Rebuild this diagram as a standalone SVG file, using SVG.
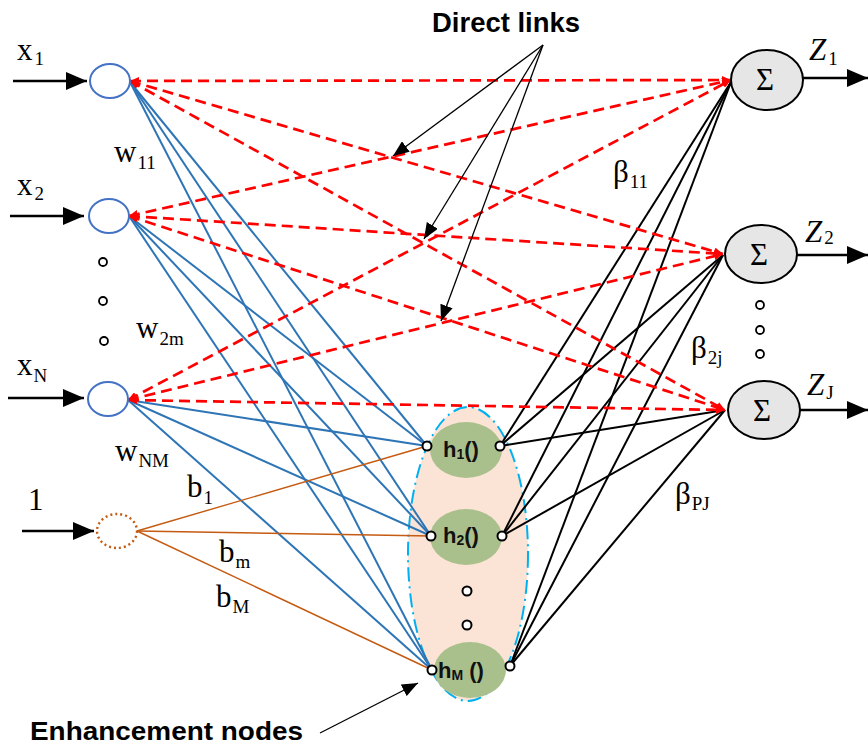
<svg xmlns="http://www.w3.org/2000/svg" width="868" height="750" viewBox="0 0 868 750">
  <defs>
    <style>
      .in { fill: #fff; stroke: #4472c4; stroke-width: 2; }
      .bias { fill: #fff; stroke: #c55a11; stroke-width: 2.4; stroke-dasharray: 2 3; }
      .w { stroke: #2e75b6; stroke-width: 2; fill: none; }
      .d { stroke: #ff0000; stroke-width: 2.7; stroke-dasharray: 11 6; fill: none; }
      .b { stroke: #c55a11; stroke-width: 1.4; fill: none; }
      .o { stroke: #000; stroke-width: 2; fill: none; }
      .arr { stroke: #000; stroke-width: 2.5; fill: none; }
      .ann { stroke: #000; stroke-width: 1.3; fill: none; }
      .sum { fill: #e7e6e6; stroke: #000; stroke-width: 2; }
      .hn { fill: #a9c08c; }
      .dot { fill: #fff; stroke: #000; stroke-width: 2; }
      .sdot { fill: #fff; stroke: #000; stroke-width: 1.8; }
      .m { font-family: "Liberation Serif", "DejaVu Serif", serif; fill: #000; font-size: 31px; }
      .sub { font-size: 19px; }
      .h { font-family: "Liberation Sans", Arial, sans-serif; font-weight: bold; font-size: 22px; fill: #111; }
      .lbl { font-family: "Liberation Sans", Arial, sans-serif; font-weight: bold; fill: #000; }
    </style>
    <marker id="head" viewBox="0 0 21 18" refX="21" refY="9" markerWidth="21" markerHeight="18" markerUnits="userSpaceOnUse" orient="auto">
      <path d="M0,0 L21,9 L0,18 z" fill="#000"/>
    </marker>
    <marker id="headSmall" viewBox="0 0 16 13" refX="16" refY="6.5" markerWidth="16" markerHeight="13" markerUnits="userSpaceOnUse" orient="auto">
      <path d="M0,0 L16,6.5 L0,13 z" fill="#000"/>
    </marker>
    <marker id="headRed" viewBox="0 0 9 8" refX="9" refY="4" markerWidth="9" markerHeight="8" markerUnits="userSpaceOnUse" orient="auto-start-reverse">
      <path d="M0,0 L9,4 L0,8 z" fill="#ff0000"/>
    </marker>
  </defs>

  <rect width="868" height="750" fill="#fff"/>

  <!-- enhancement layer envelope -->
  <g id="enhancement-group">
    <ellipse cx="468" cy="554" rx="60" ry="147" fill="#fbe4d5" stroke="#00b0f0" stroke-width="2" stroke-dasharray="14 5 2 5"/>
  </g>

  <g id="connectors">
    <!-- input arrows -->
    <line class="arr" x1="13" y1="81" x2="87" y2="81" marker-end="url(#head)"/>
    <line class="arr" x1="10" y1="216" x2="84" y2="216" marker-end="url(#head)"/>
    <line class="arr" x1="8" y1="398" x2="84" y2="398" marker-end="url(#head)"/>
    <line class="arr" x1="22" y1="531" x2="94" y2="531" marker-end="url(#head)"/>

    <!-- output arrows -->
    <line class="arr" x1="803" y1="78" x2="868" y2="78" marker-end="url(#head)"/>
    <line class="arr" x1="797" y1="255" x2="868" y2="255" marker-end="url(#head)"/>
    <line class="arr" x1="800" y1="410" x2="868" y2="410" marker-end="url(#head)"/>

    <!-- input to enhancement weights -->
    <line class="w" x1="130" y1="82" x2="427" y2="446"/>
    <line class="w" x1="130" y1="82" x2="431" y2="536"/>
    <line class="w" x1="130" y1="82" x2="432" y2="670"/>
    <line class="w" x1="129" y1="216" x2="427" y2="446"/>
    <line class="w" x1="129" y1="216" x2="431" y2="536"/>
    <line class="w" x1="129" y1="216" x2="432" y2="670"/>
    <line class="w" x1="128" y1="400" x2="427" y2="446"/>
    <line class="w" x1="128" y1="400" x2="431" y2="536"/>
    <line class="w" x1="128" y1="400" x2="432" y2="670"/>

    <!-- bias links -->
    <line class="b" x1="137" y1="531" x2="427" y2="446"/>
    <line class="b" x1="137" y1="531" x2="431" y2="536"/>
    <line class="b" x1="137" y1="531" x2="432" y2="670"/>

    <!-- enhancement to output weights -->
    <line class="o" x1="500" y1="446" x2="731" y2="82"/>
    <line class="o" x1="500" y1="446" x2="723" y2="255"/>
    <line class="o" x1="500" y1="446" x2="725" y2="410"/>
    <line class="o" x1="502" y1="536" x2="731" y2="82"/>
    <line class="o" x1="502" y1="536" x2="723" y2="255"/>
    <line class="o" x1="502" y1="536" x2="725" y2="410"/>
    <line class="o" x1="510" y1="666" x2="731" y2="82"/>
    <line class="o" x1="510" y1="666" x2="723" y2="255"/>
    <line class="o" x1="510" y1="666" x2="725" y2="410"/>

    <!-- direct links input to output -->
    <line class="d" x1="130" y1="81" x2="731" y2="80" marker-start="url(#headRed)" marker-end="url(#headRed)"/>
    <line class="d" x1="130" y1="81" x2="723" y2="254" marker-start="url(#headRed)" marker-end="url(#headRed)"/>
    <line class="d" x1="130" y1="81" x2="725" y2="410" marker-start="url(#headRed)" marker-end="url(#headRed)"/>
    <line class="d" x1="129" y1="216" x2="731" y2="80" marker-start="url(#headRed)" marker-end="url(#headRed)"/>
    <line class="d" x1="129" y1="216" x2="723" y2="254" marker-start="url(#headRed)" marker-end="url(#headRed)"/>
    <line class="d" x1="129" y1="216" x2="725" y2="410" marker-start="url(#headRed)" marker-end="url(#headRed)"/>
    <line class="d" x1="128" y1="400" x2="731" y2="80" marker-start="url(#headRed)" marker-end="url(#headRed)"/>
    <line class="d" x1="128" y1="400" x2="723" y2="254" marker-start="url(#headRed)" marker-end="url(#headRed)"/>
    <line class="d" x1="128" y1="400" x2="725" y2="410" marker-start="url(#headRed)" marker-end="url(#headRed)"/>

    <!-- annotation pointers -->
    <line class="ann" x1="543" y1="45" x2="393" y2="156" marker-end="url(#headSmall)"/>
    <line class="ann" x1="543" y1="45" x2="424" y2="239" marker-end="url(#headSmall)"/>
    <line class="ann" x1="543" y1="45" x2="441" y2="321" marker-end="url(#headSmall)"/>
    <line class="ann" x1="320" y1="733" x2="418" y2="683" marker-end="url(#headSmall)"/>
  </g>

  <!-- input nodes -->
  <g id="input-x1">
    <ellipse class="in" cx="110" cy="81" rx="20" ry="17"/>
    <text class="m" x="17" y="60">x<tspan class="sub" dx="2" dy="5">1</tspan></text>
  </g>
  <g id="input-x2">
    <ellipse class="in" cx="109" cy="216" rx="20" ry="17"/>
    <text class="m" x="17" y="195">x<tspan class="sub" dx="2" dy="5">2</tspan></text>
  </g>
  <g id="input-dots">
    <circle class="sdot" cx="103" cy="262" r="4"/>
    <circle class="sdot" cx="103" cy="301" r="4"/>
    <circle class="sdot" cx="104" cy="341" r="4"/>
  </g>
  <g id="input-xN">
    <ellipse class="in" cx="108" cy="399" rx="20" ry="17"/>
    <text class="m" x="17" y="375">x<tspan class="sub" dx="1" dy="7">N</tspan></text>
  </g>
  <g id="bias-node">
    <ellipse class="bias" cx="117" cy="531" rx="20" ry="17"/>
    <text class="m" x="28" y="510" font-size="32">1</text>
  </g>

  <!-- weight labels -->
  <g id="weight-labels">
    <text class="m" x="114" y="162">w<tspan class="sub" dx="1" dy="7">11</tspan></text>
    <text class="m" x="136" y="338">w<tspan class="sub" dx="1" dy="7">2m</tspan></text>
    <text class="m" x="115" y="461">w<tspan class="sub" dx="1" dy="6">NM</tspan></text>
    <text class="m" x="187" y="497">b<tspan class="sub" dx="1" dy="7">1</tspan></text>
    <text class="m" x="219" y="562">b<tspan class="sub" dx="1" dy="6">m</tspan></text>
    <text class="m" x="216" y="607">b<tspan class="sub" dx="1" dy="6">M</tspan></text>
    <text class="m" x="613" y="182">β<tspan class="sub" dx="1" dy="6">11</tspan></text>
    <text class="m" x="691" y="358">β<tspan class="sub" dx="1" dy="6">2j</tspan></text>
    <text class="m" x="675" y="504">β<tspan class="sub" dx="1" dy="6">PJ</tspan></text>
  </g>

  <!-- enhancement nodes -->
  <g id="enh-h1">
    <ellipse class="hn" cx="466" cy="450" rx="36" ry="28"/>
    <text class="h" x="443" y="457">h<tspan font-size="14" dy="2">1</tspan><tspan dy="-2">()</tspan></text>
    <circle class="dot" cx="427" cy="446" r="4.5"/>
    <circle class="dot" cx="500" cy="446" r="4.5"/>
  </g>
  <g id="enh-h2">
    <ellipse class="hn" cx="466" cy="537" rx="36" ry="28"/>
    <text class="h" x="443" y="543">h<tspan font-size="14" dy="2">2</tspan><tspan dy="-2">()</tspan></text>
    <circle class="dot" cx="431" cy="536" r="4.5"/>
    <circle class="dot" cx="502" cy="536" r="4.5"/>
  </g>
  <g id="enh-dots">
    <circle class="dot" cx="467" cy="591" r="4.5"/>
    <circle class="dot" cx="467" cy="625" r="4.5"/>
  </g>
  <g id="enh-hM">
    <ellipse class="hn" cx="470" cy="670" rx="36" ry="28"/>
    <text class="h" x="438" y="678">h<tspan font-size="14" dy="2">M</tspan><tspan dy="-2"> ()</tspan></text>
    <circle class="dot" cx="432" cy="670" r="4.5"/>
    <circle class="dot" cx="510" cy="666" r="4.5"/>
  </g>

  <!-- output nodes -->
  <g id="output-z1">
    <ellipse class="sum" cx="767" cy="80" rx="36" ry="30"/>
    <text class="m" x="765" y="90" text-anchor="middle" font-size="32">Σ</text>
    <text class="m" x="809" y="60" font-style="italic">Z<tspan class="sub" font-style="normal" dx="2" dy="5">1</tspan></text>
  </g>
  <g id="output-z2">
    <ellipse class="sum" cx="761" cy="254" rx="36" ry="29"/>
    <text class="m" x="759" y="265" text-anchor="middle" font-size="32">Σ</text>
    <text class="m" x="805" y="242" font-style="italic">Z<tspan class="sub" font-style="normal" dx="2" dy="2">2</tspan></text>
  </g>
  <g id="output-dots">
    <circle class="sdot" cx="760" cy="305" r="4"/>
    <circle class="sdot" cx="760" cy="330" r="4"/>
    <circle class="sdot" cx="760" cy="354" r="4"/>
  </g>
  <g id="output-zJ">
    <ellipse class="sum" cx="764" cy="410" rx="36" ry="29"/>
    <text class="m" x="762" y="421" text-anchor="middle" font-size="32">Σ</text>
    <text class="m" x="807" y="395" font-style="italic">Z<tspan class="sub" font-style="normal" dx="2" dy="4">J</tspan></text>
  </g>

  <!-- annotations -->
  <g id="label-direct-links">
    <text class="lbl" x="432" y="32" font-size="27" textLength="148" lengthAdjust="spacingAndGlyphs">Direct links</text>
  </g>
  <g id="label-enhancement-nodes">
    <text class="lbl" x="30" y="740" font-size="25" textLength="273" lengthAdjust="spacingAndGlyphs">Enhancement nodes</text>
  </g>
</svg>
